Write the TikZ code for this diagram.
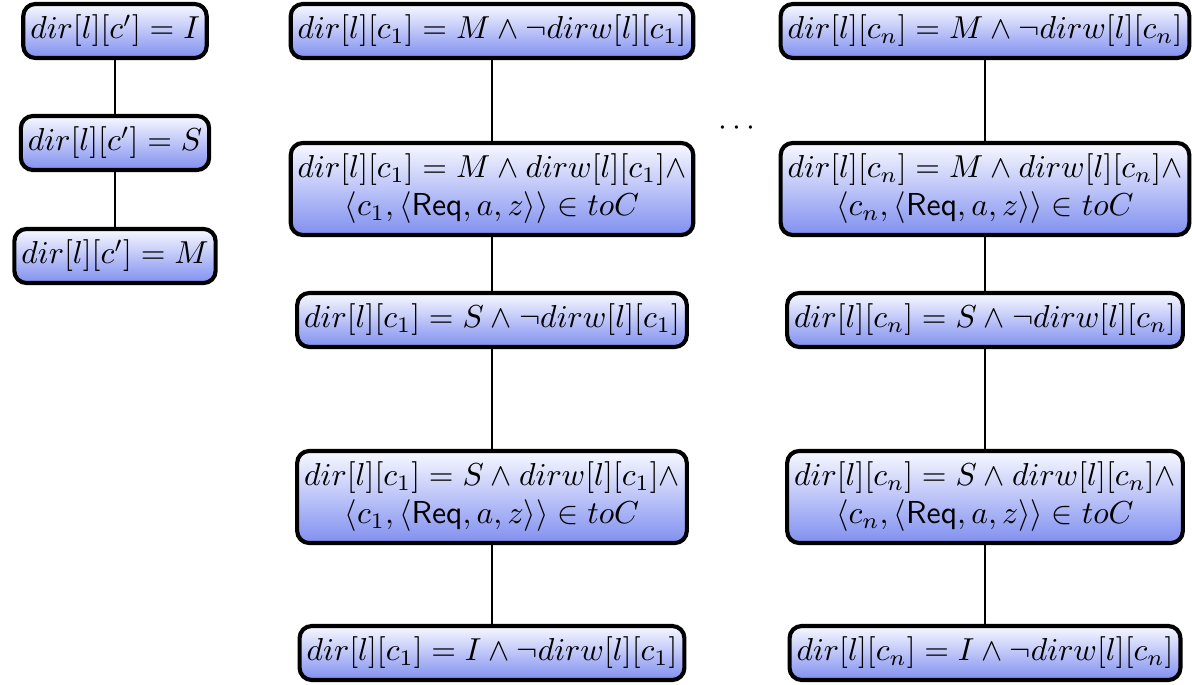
\documentclass[tikz,border=0pt]{standalone}
\usetikzlibrary{shadings}
\definecolor{boxblue}{RGB}{128,143,240}
\definecolor{boxtop}{RGB}{248,249,255}
\tikzset{
  statebox/.style={draw=black, line width=1.3pt, rounded corners=3.8pt,
    top color=boxtop, bottom color=boxblue, middle color=boxtop!50!boxblue,
    inner xsep=2.2pt, inner ysep=3.5pt, align=center},
  link/.style={draw=black, line width=0.45pt}
}
\begin{document}
\begin{tikzpicture}[x=0.315pt,y=-0.315pt]
\useasboundingbox (0,0) rectangle (1192,685);
% left column
\node[statebox] (l1) at (115,31) {$dir[l][c'] = I$};
\node[statebox] (l2) at (115,143) {$dir[l][c'] = S$};
\node[statebox] (l3) at (115,256) {$dir[l][c'] = M$};
% middle column
\node[statebox] (m1) at (492,31) {$dir[l][c_1] = M \wedge \neg dirw[l][c_1]$};
\node[statebox] (m2) at (492,189) {$dir[l][c_1] = M \wedge dirw[l][c_1] \wedge$\\$\langle c_1, \langle \mathsf{Req}, a, z\rangle\rangle \in toC$};
\node[statebox] (m3) at (492,320) {$dir[l][c_1] = S \wedge \neg dirw[l][c_1]$};
\node[statebox] (m4) at (492,497) {$dir[l][c_1] = S \wedge dirw[l][c_1] \wedge$\\$\langle c_1, \langle \mathsf{Req}, a, z\rangle\rangle \in toC$};
\node[statebox] (m5) at (492,653) {$dir[l][c_1] = I \wedge \neg dirw[l][c_1]$};
% right column
\node[statebox] (r1) at (985,31) {$dir[l][c_n] = M \wedge \neg dirw[l][c_n]$};
\node[statebox] (r2) at (985,189) {$dir[l][c_n] = M \wedge dirw[l][c_n] \wedge$\\$\langle c_n, \langle \mathsf{Req}, a, z\rangle\rangle \in toC$};
\node[statebox] (r3) at (985,320) {$dir[l][c_n] = S \wedge \neg dirw[l][c_n]$};
\node[statebox] (r4) at (985,497) {$dir[l][c_n] = S \wedge dirw[l][c_n] \wedge$\\$\langle c_n, \langle \mathsf{Req}, a, z\rangle\rangle \in toC$};
\node[statebox] (r5) at (985,653) {$dir[l][c_n] = I \wedge \neg dirw[l][c_n]$};
% dots
\node (dots) at (737,128) {$\cdots$};
% connectors
\draw[link] (l1) -- (l2);
\draw[link] (l2) -- (l3);
\draw[link] (m1) -- (m2);
\draw[link] (m2) -- (m3);
\draw[link] (m3) -- (m4);
\draw[link] (m4) -- (m5);
\draw[link] (r1) -- (r2);
\draw[link] (r2) -- (r3);
\draw[link] (r3) -- (r4);
\draw[link] (r4) -- (r5);
\end{tikzpicture}
\end{document}
